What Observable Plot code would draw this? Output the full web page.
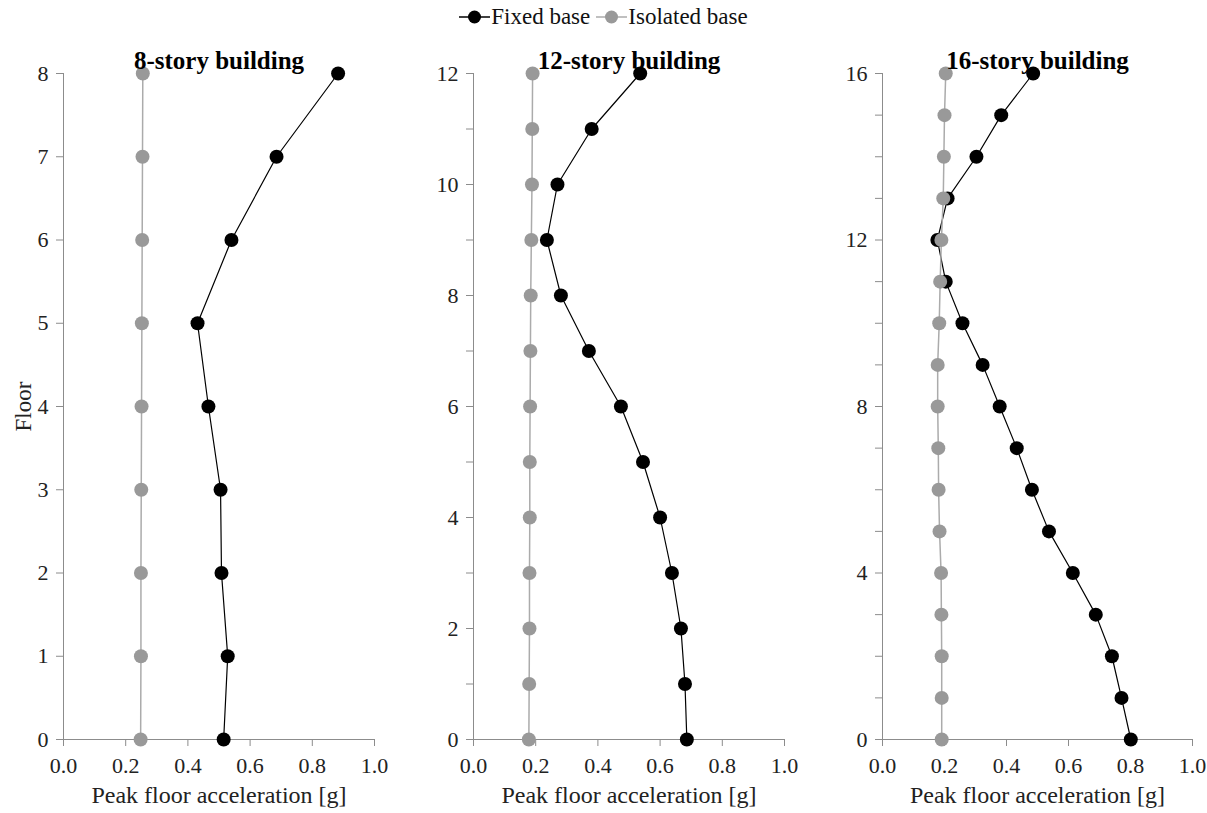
<!DOCTYPE html>
<html>
<head>
<meta charset="utf-8">
<script src="https://cdn.jsdelivr.net/npm/d3@7"></script>
<script src="https://cdn.jsdelivr.net/npm/@observablehq/plot@0.6"></script>
<style>
  body { margin: 0; background: #fff; font-family: "Liberation Serif", "DejaVu Serif", serif; }
  #wrap { position: relative; width: 1207px; height: 813px; overflow: hidden; }
  #legend { position: absolute; top: 4px; left: 0; width: 1207px; display: flex; justify-content: center; align-items: center; font-size: 23px; color: #111; }
  #legend .item { display: flex; align-items: center; margin: 0 3px; }
  #legend svg { margin-right: 1px; }
  .panel { position: absolute; top: 40px; }
</style>
</head>
<body>
<div id="wrap">
  <div id="legend"></div>
</div>
<script>
// ---- Data ----
const seriesNames = ["Fixed base", "Isolated base"];
const titles = ["8-story building", "12-story building", "16-story building"];
const xTicks = [0, 0.2, 0.4, 0.6, 0.8, 1.0];

const floors8 = [0, 1, 2, 3, 4, 5, 6, 7, 8];
const fixed8 = [0.515, 0.528, 0.508, 0.505, 0.466, 0.431, 0.540, 0.685, 0.883];
const iso8   = [0.248, 0.249, 0.249, 0.250, 0.251, 0.252, 0.253, 0.254, 0.255];

const floors12 = [0, 1, 2, 3, 4, 5, 6, 7, 8, 9, 10, 11, 12];
const fixed12 = [0.686, 0.680, 0.667, 0.638, 0.600, 0.545, 0.474, 0.371, 0.281, 0.236, 0.270, 0.380, 0.536];
const iso12   = [0.178, 0.179, 0.180, 0.180, 0.181, 0.181, 0.182, 0.183, 0.184, 0.186, 0.188, 0.189, 0.190];

const floors16 = [0, 1, 2, 3, 4, 5, 6, 7, 8, 9, 10, 11, 12, 13, 14, 15, 16];
const fixed16 = [0.801, 0.771, 0.740, 0.688, 0.614, 0.537, 0.482, 0.433, 0.378, 0.323, 0.258, 0.204, 0.177, 0.210, 0.303, 0.383, 0.486];
const iso16   = [0.191, 0.191, 0.191, 0.190, 0.189, 0.184, 0.181, 0.180, 0.178, 0.178, 0.183, 0.186, 0.190, 0.196, 0.198, 0.200, 0.204];

const yLabelSteps = [1, 2, 4];

// ---- Styles ----
const fixedColor = "#000000";
const isoDotColor = "#999999";
const isoLineColor = "#ababab";
const axisColor = "#8c8c8c";
const textColor = "#222222";
const FONT = '"Liberation Serif", "DejaVu Serif", serif';

// ---- Legend ----
const legend = document.getElementById("legend");
[[seriesNames[0], fixedColor, fixedColor], [seriesNames[1], isoDotColor, isoLineColor]].forEach(([name, dotC, lineC]) => {
  const item = document.createElement("div");
  item.className = "item";
  item.innerHTML = `<svg width="31" height="16"><line x1="0" y1="8" x2="31" y2="8" stroke="${lineC}" stroke-width="1.5"/><circle cx="15.5" cy="8" r="6.5" fill="${dotC}"/></svg><span>${name}</span>`;
  legend.appendChild(item);
});

// ---- Panels ----
const panels = [
  {floors: floors8, fixed: fixed8, iso: iso8, left: 0, width: 403, ml: 63, mr: 29},
  {floors: floors12, fixed: fixed12, iso: iso12, left: 403, width: 403, ml: 70, mr: 22},
  {floors: floors16, fixed: fixed16, iso: iso16, left: 806, width: 401, ml: 76, mr: 15}
];

const wrap = document.getElementById("wrap");
panels.forEach((p, i) => {
  const N = p.floors[p.floors.length - 1];
  const step = yLabelSteps[i];
  const fixedData = p.floors.map((f, j) => ({floor: f, acc: p.fixed[j]}));
  const isoData = p.floors.map((f, j) => ({floor: f, acc: p.iso[j]}));
  const marks = [
    Plot.ruleX([0], {stroke: axisColor}),
    Plot.ruleY([0], {stroke: axisColor}),
    Plot.axisX({ticks: xTicks, tickFormat: d3.format(".1f"), tickSize: 7, tickPadding: 11, stroke: axisColor, fill: textColor, fontSize: 22, label: null}),
    Plot.axisY({ticks: p.floors, tickFormat: d => d % step === 0 ? String(d) : "", tickSize: 7, tickPadding: 8, stroke: axisColor, fill: textColor, fontSize: 22, label: null}),
    Plot.line(fixedData, {x: "acc", y: "floor", stroke: fixedColor, strokeWidth: 1.2}),
    Plot.dot(fixedData, {x: "acc", y: "floor", r: 7, fill: fixedColor, stroke: "none"}),
    Plot.line(isoData, {x: "acc", y: "floor", stroke: isoLineColor, strokeWidth: 1.5}),
    Plot.dot(isoData, {x: "acc", y: "floor", r: 7, fill: isoDotColor, stroke: "none"}),
    Plot.text([titles[i]], {frameAnchor: "top", lineAnchor: "middle", dy: -13, fontWeight: "bold", fontSize: 25, fill: "#000"}),
    Plot.text(["Peak floor acceleration [g]"], {frameAnchor: "bottom", lineAnchor: "middle", dy: 56, fontSize: 24, fill: textColor})
  ];
  if (i === 0) {
    marks.push(Plot.text(["Floor"], {frameAnchor: "left", textAnchor: "middle", lineAnchor: "middle", dx: -40, rotate: -90, fontSize: 23, fill: textColor}));
  }
  const chart = Plot.plot({
    width: p.width,
    height: 773,
    marginLeft: p.ml,
    marginRight: p.mr,
    marginTop: 33,
    marginBottom: 74,
    x: {domain: [0, 1], axis: null},
    y: {domain: [0, N], axis: null},
    style: {fontFamily: FONT, background: "transparent", overflow: "visible"},
    marks
  });
  chart.classList.add("panel");
  chart.style.left = p.left + "px";
  wrap.appendChild(chart);
});
</script>
</body>
</html>
